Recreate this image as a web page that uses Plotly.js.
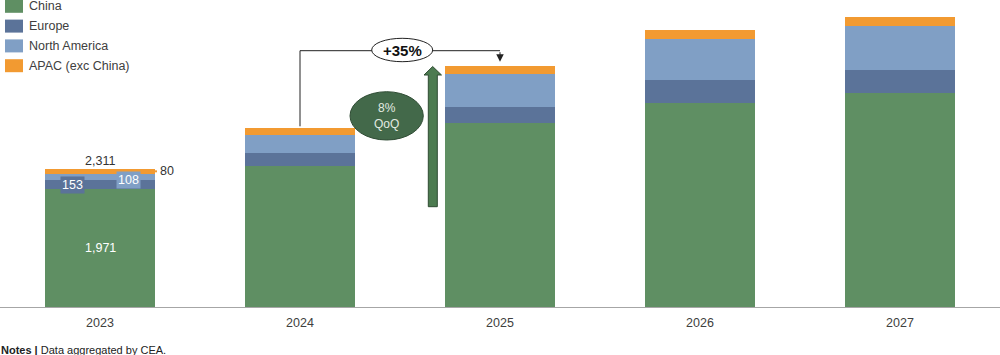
<!DOCTYPE html>
<html>
<head>
<meta charset="utf-8">
<script src="https://cdn.plot.ly/plotly-3.0.1.min.js"></script>
<style>
  html, body { margin: 0; padding: 0; background: #ffffff; }
  #chart { width: 1000px; height: 355px; }
</style>
</head>
<body>
<div id="chart"></div>
<script>
// ---- Data ----
const years = ['2023', '2024', '2025', '2026', '2027'];
const china = [1971, 2355, 3082, 3417, 3585];
const europe = [153, 224, 268, 391, 379];
const northAmerica = [108, 307, 558, 687, 737];
const apac = [80, 112, 134, 140, 157];
const seriesNames = ['China', 'Europe', 'North America', 'APAC (exc China)'];
const total2023 = 2311;             // printed total (components are rounded)
const growthLabel = '+35%';
const qoqLines = ['8%', 'QoQ'];
const noteBold = 'Notes |';
const noteText = 'Data aggregated by CEA.';

// ---- Styling ----
const FONT = 'Liberation Sans, Arial, Helvetica, sans-serif';
const colors = ['#5f8f63', '#5b7399', '#809fc5', '#f29a31'];
const series = [china, europe, northAmerica, apac];

const H = 355, MB = 48, MT = 0;
const plotH = H - MB - MT;          // 307 px
const yMax = 5141;                  // value at the top of the plot area
const py = p => (plotH - p) / plotH; // pixel row -> paper y
const px = p => p / 1000;            // pixel column -> paper x

const traces = series.map((vals, i) => ({
  type: 'bar',
  x: years,
  y: vals,
  name: seriesNames[i],
  marker: { color: colors[i], line: { width: 0 } },
  showlegend: false,
  hoverinfo: 'x+y+name'
}));

const fmt = v => v.toLocaleString('en-US');
const totals = years.map((_, k) => series.reduce((s, a) => s + a[k], 0));

const shapes = [];
const annotations = [];

// Custom legend (built from the series names and colours)
seriesNames.forEach((n, i) => {
  const c = 6.3 + 19.8 * i;
  shapes.push({ type: 'rect', xref: 'paper', yref: 'paper',
    x0: px(5), x1: px(23), y0: py(c + 6.5), y1: py(c - 6.5),
    fillcolor: colors[i], line: { width: 0 } });
  annotations.push({ xref: 'paper', yref: 'paper', x: px(28), y: py(c),
    xanchor: 'left', yanchor: 'middle', text: n, showarrow: false,
    font: { family: FONT, size: 12.5, color: '#404040' }, borderpad: 0 });
});

// 2023 value labels
const k0 = 0;
annotations.push({ x: 0, y: china[k0] / 2, xanchor: 'center', yanchor: 'middle', text: fmt(china[k0]), showarrow: false,
  font: { family: FONT, size: 12.5, color: '#ffffff' } });
annotations.push({ x: -0.14, y: china[k0] + europe[k0] / 2, xanchor: 'center', yanchor: 'middle', text: fmt(europe[k0]), showarrow: false,
  font: { family: FONT, size: 12.5, color: '#ffffff' }, bgcolor: colors[1], borderpad: 1 });
annotations.push({ x: 0.14, y: china[k0] + europe[k0] + northAmerica[k0] / 2 - 50, xanchor: 'center', yanchor: 'middle', text: fmt(northAmerica[k0]), showarrow: false,
  font: { family: FONT, size: 12.5, color: '#ffffff' }, bgcolor: colors[2], borderpad: 1 });
const apacMid = totals[k0] - apac[k0] / 2;
shapes.push({ type: 'line', xref: 'x', yref: 'y', x0: 0.24, x1: 0.285, y0: apacMid, y1: apacMid,
  line: { color: colors[3], width: 2 } });
annotations.push({ x: 0.295, y: apacMid, xanchor: 'left', yanchor: 'middle', text: fmt(apac[k0]), showarrow: false,
  font: { family: FONT, size: 12.5, color: '#333333' }, borderpad: 0 });
annotations.push({ x: 0, y: totals[k0], yshift: 8, xanchor: 'center', yanchor: 'middle', text: fmt(total2023), showarrow: false,
  font: { family: FONT, size: 12.5, color: '#333333' } });

// +35% elbow connector from 2024 to 2025
const level = 4292;
shapes.push({ type: 'line', xref: 'x', yref: 'y', x0: 1, x1: 1, y0: totals[1] + 28, y1: level,
  line: { color: '#222222', width: 1 } });
shapes.push({ type: 'line', xref: 'x', yref: 'y', x0: 1, x1: 2, y0: level, y1: level,
  line: { color: '#222222', width: 1 } });
annotations.push({ x: 2, y: totals[2] + 65, xref: 'x', yref: 'y', ax: 2, ay: level, axref: 'x', ayref: 'y',
  showarrow: true, arrowhead: 2, arrowsize: 1.5, arrowwidth: 1, arrowcolor: '#222222', text: '' });
shapes.push({ type: 'circle', xref: 'paper', yref: 'paper',
  x0: px(371.7), x1: px(432.7), y0: py(61.7), y1: py(38.3),
  fillcolor: '#ffffff', line: { color: '#222222', width: 1 } });
annotations.push({ xref: 'paper', yref: 'paper', x: px(402), y: py(51), xanchor: 'center', yanchor: 'middle',
  text: '<b>' + growthLabel + '</b>',
  showarrow: false, font: { family: FONT, size: 15, color: '#111111' } });

// Big upward green arrow
const ax0 = 428.3, ax1 = 437.3, hb = 75, hx0 = 424, hx1 = 441.5, tipX = 432.7, tipY = 66.5, bot = 206.7;
const path = `M${px(ax0)},${py(bot)} L${px(ax0)},${py(hb)} L${px(hx0)},${py(hb)} L${px(tipX)},${py(tipY)} ` +
  `L${px(hx1)},${py(hb)} L${px(ax1)},${py(hb)} L${px(ax1)},${py(bot)} Z`;
shapes.push({ type: 'path', xref: 'paper', yref: 'paper', path: path,
  fillcolor: '#4c7b50', line: { color: '#2f4c32', width: 1 } });

// 8% QoQ ellipse
shapes.push({ type: 'circle', xref: 'paper', yref: 'paper',
  x0: px(350), x1: px(423.3), y0: py(140), y1: py(91.7),
  fillcolor: '#43694a', line: { color: '#2f4c34', width: 1 } });
annotations.push({ xref: 'paper', yref: 'paper', x: px(386.7), y: py(116.5), xanchor: 'center', yanchor: 'middle',
  text: qoqLines.join('<br>'),
  showarrow: false, font: { family: FONT, size: 12, color: '#e2ebe2' } });

// Notes
annotations.push({ xref: 'paper', yref: 'paper', x: 0, y: py(349.5), xanchor: 'left', yanchor: 'middle',
  text: '<b>' + noteBold + '</b> ' + noteText, showarrow: false, borderpad: 0,
  font: { family: FONT, size: 11, color: '#222222' } });

const layout = {
  width: 1000, height: H,
  margin: { l: 0, r: 0, t: MT, b: MB, pad: 0 },
  paper_bgcolor: '#ffffff', plot_bgcolor: '#ffffff',
  barmode: 'stack', bargap: 0.45,
  font: { family: FONT, color: '#333333' },
  xaxis: { type: 'category', showline: true, linecolor: '#a6a6a6', linewidth: 1,
    ticks: '', showgrid: false, zeroline: false, ticklabelstandoff: 4,
    tickfont: { family: FONT, size: 12.5, color: '#404040' } },
  yaxis: { visible: false, range: [0, yMax], showgrid: false, zeroline: false },
  showlegend: false,
  shapes: shapes,
  annotations: annotations
};

Plotly.newPlot('chart', traces, layout, { displayModeBar: false, staticPlot: true });
</script>
</body>
</html>
